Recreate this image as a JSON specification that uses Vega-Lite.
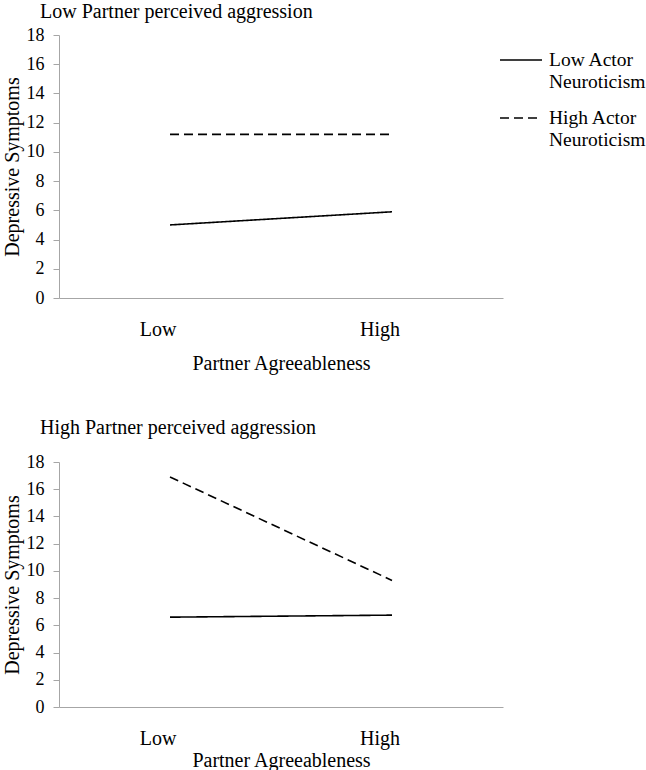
{
  "$schema": "https://vega.github.io/schema/vega-lite/v6.json",
  "background": "white",
  "padding": {"left": 2, "top": 2, "right": 0, "bottom": 0},
  "config": {
    "font": "Liberation Serif",
    "view": {"stroke": null},
    "axis": {"grid": false, "labelFont": "Liberation Serif", "labelFontSize": 18, "labelColor": "black", "titleFont": "Liberation Serif", "titleFontSize": 20, "titleFontWeight": "normal", "titleColor": "black", "domainColor": "#a6a6a6", "tickColor": "#a6a6a6"},
    "title": {"font": "Liberation Serif", "fontSize": 20, "fontWeight": "normal", "color": "black", "anchor": "start", "frame": "group"}
  },
  "bounds": "flush",
  "spacing": 164,
  "resolve": {"scale": {"strokeDash": "independent"}, "legend": {"strokeDash": "independent"}},
  "datasets": {
    "low": [
      {"agree": "Low", "neuro": "Low Actor Neuroticism", "dep": 5.0},
      {"agree": "High", "neuro": "Low Actor Neuroticism", "dep": 5.9},
      {"agree": "Low", "neuro": "High Actor Neuroticism", "dep": 11.2},
      {"agree": "High", "neuro": "High Actor Neuroticism", "dep": 11.2}
    ],
    "high": [
      {"agree": "Low", "neuro": "Low Actor Neuroticism", "dep": 6.6},
      {"agree": "High", "neuro": "Low Actor Neuroticism", "dep": 6.75},
      {"agree": "Low", "neuro": "High Actor Neuroticism", "dep": 16.9},
      {"agree": "High", "neuro": "High Actor Neuroticism", "dep": 9.3}
    ]
  },
  "vconcat": [
    {
      "width": 444,
      "height": 263,
      "title": {"text": "Low Partner perceived aggression", "dx": -19, "offset": 4},
      "data": {"name": "low"},
      "mark": {"type": "line", "color": "black", "strokeWidth": 1.6},
      "encoding": {
        "x": {"field": "agree", "type": "nominal", "sort": ["Low", "High"], "scale": {"type": "band", "paddingInner": 0, "paddingOuter": 0},
          "axis": {"title": "Partner Agreeableness", "labelAngle": 0, "labelFontSize": 20, "ticks": false, "labelPadding": 21, "labelOffset": -12, "titlePadding": 14}},
        "y": {"field": "dep", "type": "quantitative", "scale": {"domain": [0, 18], "nice": false},
          "axis": {"title": "Depressive Symptoms", "values": [0, 2, 4, 6, 8, 10, 12, 14, 16, 18], "tickSize": 6, "labelPadding": 9, "titlePadding": 4}},
        "strokeDash": {"field": "neuro", "type": "nominal", "sort": ["Low Actor Neuroticism", "High Actor Neuroticism"],
          "scale": {"domain": ["Low Actor Neuroticism", "High Actor Neuroticism"], "range": [[1, 0], [9, 5]]},
          "legend": {"title": null, "orient": "none", "legendX": 440, "legendY": 3, "symbolType": "stroke", "symbolSize": 1764, "symbolStrokeWidth": 1.5, "symbolStrokeColor": "black",
            "labelFont": "Liberation Serif", "labelFontSize": 19.5, "labelColor": "black", "labelLimit": 200, "labelOffset": 6, "rowPadding": 5,
            "labelExpr": "split(replace(datum.label, ' Neuroticism', '|Neuroticism'), '|')"}}
      }
    },
    {
      "width": 444,
      "height": 245,
      "title": {"text": "High Partner perceived aggression", "dx": -19, "offset": 15},
      "data": {"name": "high"},
      "mark": {"type": "line", "color": "black", "strokeWidth": 1.6},
      "encoding": {
        "x": {"field": "agree", "type": "nominal", "sort": ["Low", "High"], "scale": {"type": "band", "paddingInner": 0, "paddingOuter": 0},
          "axis": {"title": "Partner Agreeableness", "labelAngle": 0, "labelFontSize": 20, "ticks": false, "labelPadding": 21, "labelOffset": -12, "titlePadding": 2}},
        "y": {"field": "dep", "type": "quantitative", "scale": {"domain": [0, 18], "nice": false},
          "axis": {"title": "Depressive Symptoms", "values": [0, 2, 4, 6, 8, 10, 12, 14, 16, 18], "tickSize": 6, "labelPadding": 9, "titlePadding": 4}},
        "strokeDash": {"field": "neuro", "type": "nominal",
          "scale": {"domain": ["Low Actor Neuroticism", "High Actor Neuroticism"], "range": [[1, 0], [9, 5]]},
          "legend": null}
      }
    }
  ]
}
